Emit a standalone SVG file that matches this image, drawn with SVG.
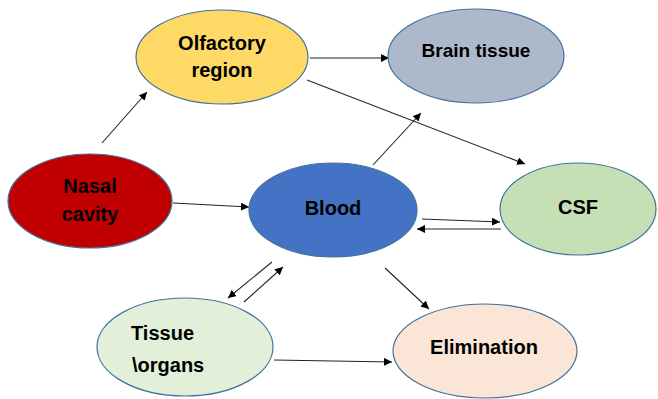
<svg xmlns="http://www.w3.org/2000/svg" width="658" height="399" viewBox="0 0 658 399">
<defs>
<marker id="ah" viewBox="0 0 10 10" refX="10" refY="5" markerWidth="8" markerHeight="8" markerUnits="userSpaceOnUse" orient="auto">
<path d="M0,0 L10,5 L0,10 Z" fill="#000"/>
</marker>
<style>
.n{stroke:#41719C;stroke-width:1.2}
.t{font-family:"Liberation Sans",Arial,sans-serif;font-weight:bold;font-size:20px;fill:#000}
.c{text-anchor:middle}
.e{stroke:#222;stroke-width:1.1;fill:none;marker-end:url(#ah)}
</style>
</defs>
<rect width="658" height="399" fill="#fff"/>
<g id="connectors">
<line class="e" x1="102" y1="143" x2="147" y2="92"/>
<line class="e" x1="310" y1="58" x2="389" y2="58"/>
<line class="e" x1="307" y1="80" x2="525" y2="164"/>
<line class="e" x1="373" y1="165" x2="421" y2="113"/>
<line class="e" x1="173" y1="203" x2="249" y2="207"/>
<line class="e" x1="422" y1="219" x2="500" y2="222"/>
<line class="e" x1="501" y1="229" x2="417" y2="229"/>
<line class="e" x1="272" y1="262" x2="228" y2="298"/>
<line class="e" x1="244" y1="302" x2="283" y2="267"/>
<line class="e" x1="385" y1="268" x2="429" y2="309"/>
<line class="e" x1="274" y1="360" x2="392" y2="362"/>
</g>
<g id="olfactory">
<ellipse class="n" cx="222" cy="57" rx="86" ry="47" fill="#FFD966"/>
<text class="t c" x="222" y="50">Olfactory</text>
<text class="t c" x="222" y="77">region</text>
</g>
<g id="brain">
<ellipse class="n" cx="476" cy="56" rx="88" ry="47" fill="#ADB9CA"/>
<text class="t c" x="476" y="57" style="font-size:19px">Brain tissue</text>
</g>
<g id="nasal">
<ellipse class="n" cx="90" cy="201" rx="82" ry="47" fill="#C00000"/>
<text class="t c" x="90" y="193">Nasal</text>
<text class="t c" x="90" y="221">cavity</text>
</g>
<g id="blood">
<ellipse class="n" cx="333" cy="210" rx="84" ry="47" fill="#4472C4"/>
<text class="t c" x="333" y="215">Blood</text>
</g>
<g id="csf">
<ellipse class="n" cx="578" cy="209" rx="78" ry="46" fill="#C5E0B4"/>
<text class="t c" x="578" y="214">CSF</text>
</g>
<g id="tissue">
<ellipse class="n" cx="185" cy="347" rx="88" ry="49" fill="#E2F0D9"/>
<text class="t" x="131" y="340">Tissue</text>
<text class="t" x="132" y="372">\organs</text>
</g>
<g id="elimination">
<ellipse class="n" cx="485" cy="351" rx="92" ry="47" fill="#FBE5D6"/>
<text class="t c" x="484" y="354">Elimination</text>
</g>
</svg>
